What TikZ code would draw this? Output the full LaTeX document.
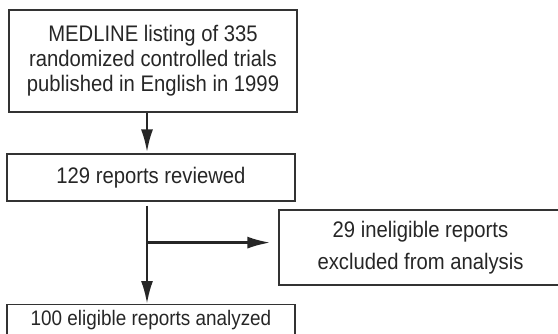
\documentclass[tikz,border=0pt]{standalone}
\usepackage{fontspec}
\setmainfont{Liberation Sans}[FakeStretch=0.9]
\usetikzlibrary{arrows.meta,positioning}

\begin{document}
\begin{tikzpicture}[
    x=1pt, y=1pt,
    % Box styles
    stepbox/.style={
        rectangle,
        draw=black!80,
        line width=1.2pt,
        align=center,
        text=black!85,
        inner sep=0pt,
        font=\fontsize{22.5}{25}\selectfont
    },
    flow/.style={draw=black!85, line width=2.6pt, -{Latex[length=23pt,width=12pt]}}
]
\clip (0,0) rectangle (558,333);
\useasboundingbox (0,0) rectangle (558,333);

% Boxes
\node[stepbox, minimum width=288pt, minimum height=102pt] (medline) at (153,272)
    {MEDLINE listing of 335\\randomized controlled trials\\published in English in 1999};
\node[stepbox, minimum width=288pt, minimum height=47pt] (reviewed) at (151,155.5)
    {129 reports reviewed};
\node[stepbox, minimum width=283pt, minimum height=75pt] (excluded) at (420.5,85.5)
    {29 ineligible reports\\[7pt]excluded from analysis};
\node[stepbox, minimum width=288pt, anchor=north, text height=17pt, text depth=20pt,
    inner ysep=4pt, font=\fontsize{21}{25}\selectfont] (analyzed) at (151,29)
    {100 eligible reports analyzed};

% Connections
\coordinate (split) at ([xshift=-4pt,yshift=-41pt]reviewed.south);
\draw[flow, shorten >=1pt] ([xshift=-6pt]medline.south) -- ([xshift=-4pt]reviewed.north);
\draw[flow, shorten <=4pt] ([xshift=-4pt]reviewed.south) -- ([xshift=-4pt]analyzed.north);
\draw[flow, shorten >=8pt] (split) -- (split -| excluded.west);

\end{tikzpicture}
\end{document}
